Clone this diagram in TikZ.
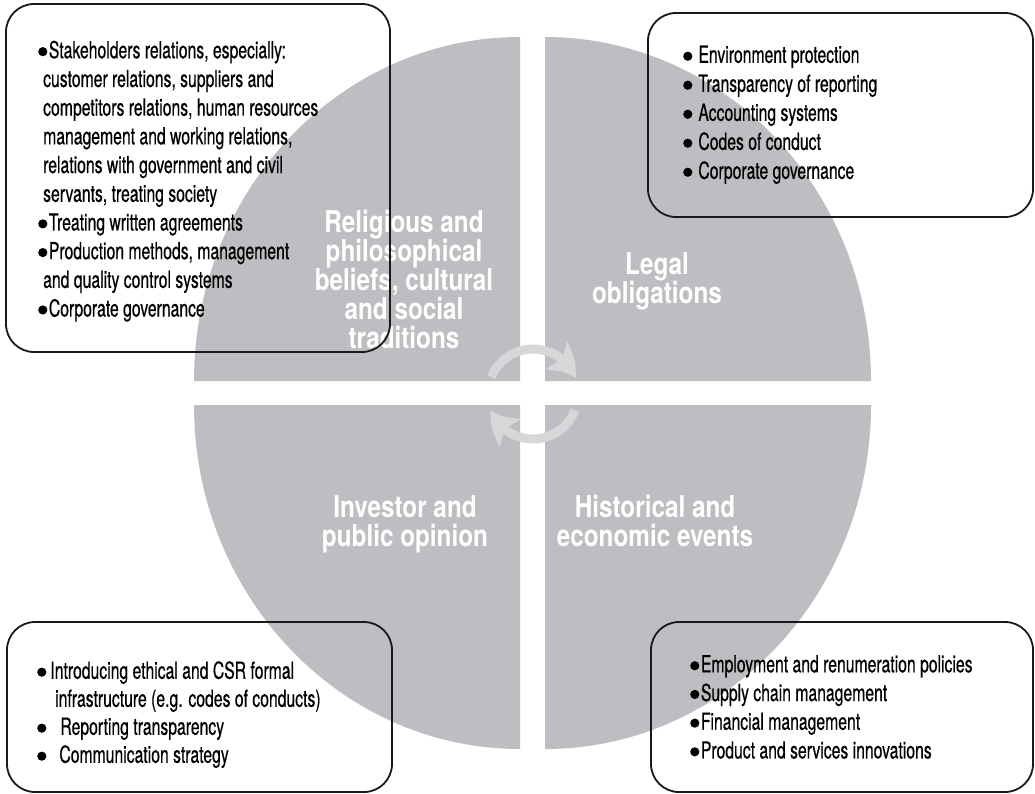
\documentclass[tikz,border=0pt]{standalone}
\usepackage{fontspec}
\newfontfamily\listfont{TeX Gyre Heros}[FakeStretch=0.67,FakeBold=0.5]
\newfontfamily\headfont{TeX Gyre Heros}[FakeStretch=0.81]
\usetikzlibrary{arrows.meta,bending}
\definecolor{quadgray}{RGB}{189,190,193}
\definecolor{arrowgray}{RGB}{214,215,217}
% round bullet, #1 = gap before the text
\newcommand\bul[1][1.5pt]{\raisebox{2pt}{\tikz\fill (0,0) circle (4.6pt);}\hspace{#1}\ignorespaces}

\begin{document}
\begin{tikzpicture}[x=1pt, y=-1pt,
  quadrant/.style={fill=quadgray},
  cyclearrow/.style={arrowgray, line width=9pt, -{Stealth[length=30pt,width=34pt,inset=6pt,bend]}},
  heading/.style={text=white, align=center, anchor=north, inner sep=0pt,
    font=\headfont\bfseries\fontsize{30}{29}\selectfont},
  infobox/.style={draw=black!90, line width=1.8pt, rounded corners=28pt},
  itemlist/.style={align=left, anchor=north west, inner sep=0pt,
    font=\listfont\fontsize{23.5}{28.7}\selectfont}]
  \useasboundingbox (0,0) rectangle (1035,793);

  % four quarters of the disc, pulled apart
  \foreach \cx/\cy/\a in {520/381/180, 545/381/270, 545/405/0, 520/405/90}
    \fill[quadrant] (\cx,\cy) -- ++(\a:326 and 344)
      arc[start angle=\a, delta angle=90, x radius=326, y radius=344] -- cycle;

  % the two turning arrows in the middle
  \coordinate (hub) at (533,394);
  \draw[cyclearrow] ([shift={(202:45)}]hub) arc[start angle=202, end angle=340, radius=45];
  \draw[cyclearrow] ([shift={(21:45)}]hub) arc[start angle=21, end angle=159, radius=45];

  \node[heading] (religious) at (404,210) {Religious and\\philosophical\\beliefs, cultural\\and social\\traditions};
  \node[heading] (legal) at (657,252) {Legal\\obligations};
  \node[heading] (investor) at (405,495) {Investor and\\public opinion};
  \node[heading] (historical) at (655,495) {Historical and\\economic events};

  \draw[infobox] (6,4) rectangle (390,352);
  \draw[infobox] (648,13) rectangle (1033,217);
  \draw[infobox] (7,622) rectangle (392,792);
  \draw[infobox] (651,622) rectangle (1033,792);

  \node[itemlist] (religiousitems) at (38,40.5) {%
    \bul Stakeholders relations, especially:\\
    \hspace*{5pt}customer relations, suppliers and\\
    \hspace*{5pt}competitors relations, human resources\\
    \hspace*{5pt}management and working relations,\\
    \hspace*{5pt}relations with government and civil\\
    \hspace*{5pt}servants, treating society\\
    \bul Treating written agreements\\
    \bul Production methods, management\\
    \hspace*{5pt}and quality control systems\\
    \bul Corporate governance};
  \node[itemlist, font=\listfont\fontsize{23.5}{29}\selectfont] (legalitems) at (683,45.5) {%
    \bul[6pt] Environment protection\\
    \bul[6pt] Transparency of reporting\\
    \bul[6pt] Accounting systems\\
    \bul[6pt] Codes of conduct\\
    \bul[6pt] Corporate governance};
  \node[itemlist, font=\listfont\fontsize{23.5}{28}\selectfont] (investoritems) at (37,661) {%
    \bul[4pt] Introducing ethical and CSR formal\\
    \hspace*{18pt}infrastructure (e.g. codes of conducts)\\
    \bul[14pt] Reporting transparency\\
    \bul[13pt] Communication strategy};
  \node[itemlist] (historicalitems) at (690,655) {%
    \bul[1.5pt] Employment and renumeration policies\\
    \bul[1.5pt] Supply chain management\\
    \bul[1.5pt] Financial management\\
    \bul[1.5pt] Product and services innovations};
\end{tikzpicture}
\end{document}
